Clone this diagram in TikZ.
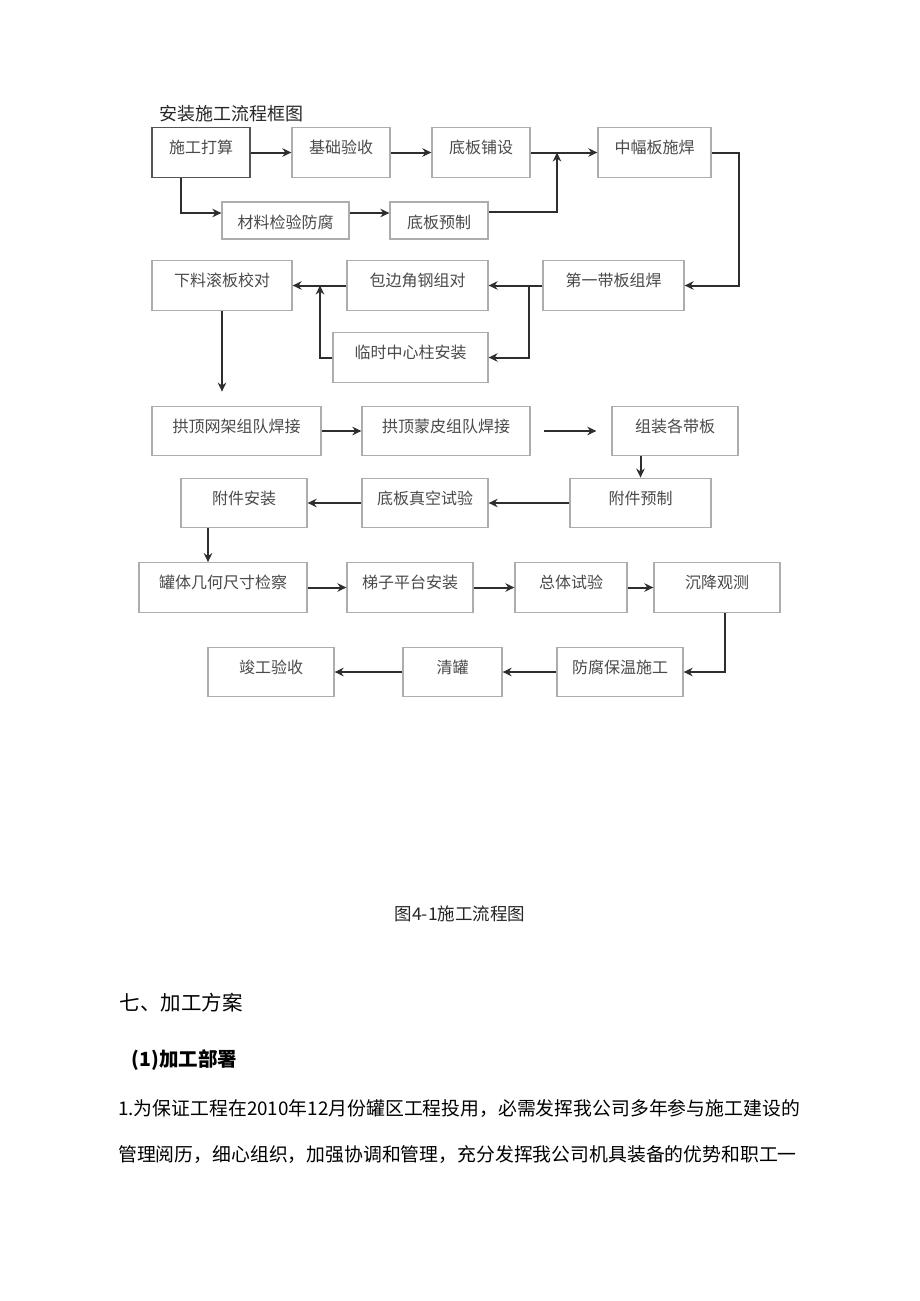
\documentclass[tikz,border=0pt]{standalone}
\usepackage{fontspec}
\setmainfont{Noto Sans CJK SC}
\usetikzlibrary{arrows.meta}
\definecolor{boxgray}{HTML}{ADADAD}
\definecolor{boxdark}{HTML}{555555}
\definecolor{boxtext}{HTML}{4A4A4A}
\definecolor{linegray}{HTML}{2E2E2E}
\tikzset{>={Stealth[length=9pt,width=8.5pt]}}

\begin{document}
\begin{tikzpicture}[x=1pt,y=-1pt,
    stepbox/.style={draw=boxgray,line width=1.3pt,inner xsep=0pt,inner ysep=0pt,
      minimum width=#1pt,text height=26pt,text depth=23.5pt,text=boxtext,
      font=\fontsize{16}{16}\selectfont},
    low/.style={text depth=11pt},
    link/.style={->,draw=linegray,line width=2pt}]
  \fill[white] (0,0) rectangle (920,1301);
  \useasboundingbox (0,0) rectangle (920,1301);
  % \draw[help lines,step=50] (0,0) grid (920,1301);
  \node[anchor=west,text=black!85,font=\fontsize{18}{18}\selectfont] (title) at (156,114) {安装施工流程框图};

  % Zeile 1
  \node[stepbox=98,draw=boxdark] (jh) at (201,152.5) {施工打算};
  \node[stepbox=98] (ys) at (341,152.5) {基础验收};
  \node[stepbox=98] (pu) at (481,152.5) {底板铺设};
  \node[stepbox=113] (zf) at (654.5,152.5) {中幅板施焊};
  \node[stepbox=127,low] (cl) at (285.5,220.5) {材料检验防腐};
  \node[stepbox=98,low] (yz) at (439,220.5) {底板预制};
  \coordinate (j1) at (557,152.5);

  % Zeile 2
  \node[stepbox=140] (xl) at (222,285.5) {下料滚板校对};
  \node[stepbox=141] (bb) at (417.5,285.5) {包边角钢组对};
  \node[stepbox=141] (dy) at (613.5,285.5) {第一带板组焊};
  \node[stepbox=155] (lz) at (410.5,357.5) {临时中心柱安装};
  \coordinate (j3) at (529,285.5);
  \coordinate (j4) at (320,285.5);

  % Zeile 3 und 4
  \node[stepbox=169] (wj) at (236.5,431) {拱顶网架组队焊接};
  \node[stepbox=168] (mp) at (446,431) {拱顶蒙皮组队焊接};
  \node[stepbox=126] (zz) at (675,431) {组装各带板};
  \node[stepbox=126] (fa) at (244,503) {附件安装};
  \node[stepbox=126] (zk) at (425,503) {底板真空试验};
  \node[stepbox=141] (fy) at (640.5,503) {附件预制};

  % Zeile 5 und 6
  \node[stepbox=168] (gt) at (223,587.5) {罐体几何尺寸检察};
  \node[stepbox=126] (tz) at (410,587.5) {梯子平台安装};
  \node[stepbox=112] (zt) at (571,587.5) {总体试验};
  \node[stepbox=126] (cj) at (717,587.5) {沉降观测};
  \node[stepbox=126] (jg) at (271,672) {竣工验收};
  \node[stepbox=99] (qg) at (452.5,672) {清罐};
  \node[stepbox=126] (fb) at (620,672) {防腐保温施工};

  \foreach \a/\b in {jh/ys,ys/pu,pu/zf,wj/mp,gt/tz,tz/zt,zt/cj}{
    \draw[link] (\a.east) -- (\b.west);
  }
  \foreach \a/\b in {dy/bb,bb/xl,fy/zk,zk/fa,fb/qg,qg/jg}{
    \draw[link] (\a.west) -- (\b.east);
  }
  \draw[link] ([xshift=-20pt]jh.south) |- ([yshift=7.5pt]cl.west);
  \draw[link] ([yshift=7.5pt]cl.east) -- ([yshift=7.5pt]yz.west);
  \draw[link] ([yshift=8.5pt]yz.east) -| (j1);
  \draw[link] (zf.east) -- ++(27,0) |- (dy.east);
  \draw[link] (j3) |- (lz.east);
  \draw[link] (lz.west) -| (j4);
  \draw[link,shorten >=14pt] (xl.south) -- (xl.south |- wj.north);
  \draw[link,shorten <=13pt,shorten >=15pt] (mp.east) -- (zz.west);
  \draw[link] (fy.north |- zz.south) -- (fy.north);
  \draw[link] ([xshift=-36pt]fa.south) -- ([xshift=-36pt]fa.south |- gt.north);
  \draw[link] ([xshift=8pt]cj.south) |- (fb.east);

  % Text unter dem Bild
  \node[text=black!85,font=\fontsize{17.5}{17.5}\selectfont] (cap) at (460,914) {图4-1施工流程图};
  \node[anchor=west,font=\fontsize{20.5}{20.5}\selectfont] (h7) at (116,1003) {七、加工方案};
  \node[anchor=west,font=\bfseries\fontsize{19.5}{19.5}\selectfont] (h1) at (128,1060) {(1)加工部署};
  \node[anchor=west,inner xsep=0pt,font=\fontsize{18.85}{18.85}\selectfont] (p1) at (118,1109)
    {1.为保证工程在2010年12月份罐区工程投用，必需发挥我公司多年参与施工建设的};
  \node[anchor=west,inner xsep=0pt,font=\fontsize{18.85}{18.85}\selectfont] (p2) at (118,1155)
    {管理阅历，细心组织，加强协调和管理，充分发挥我公司机具装备的优势和职工一};
\end{tikzpicture}
\end{document}
